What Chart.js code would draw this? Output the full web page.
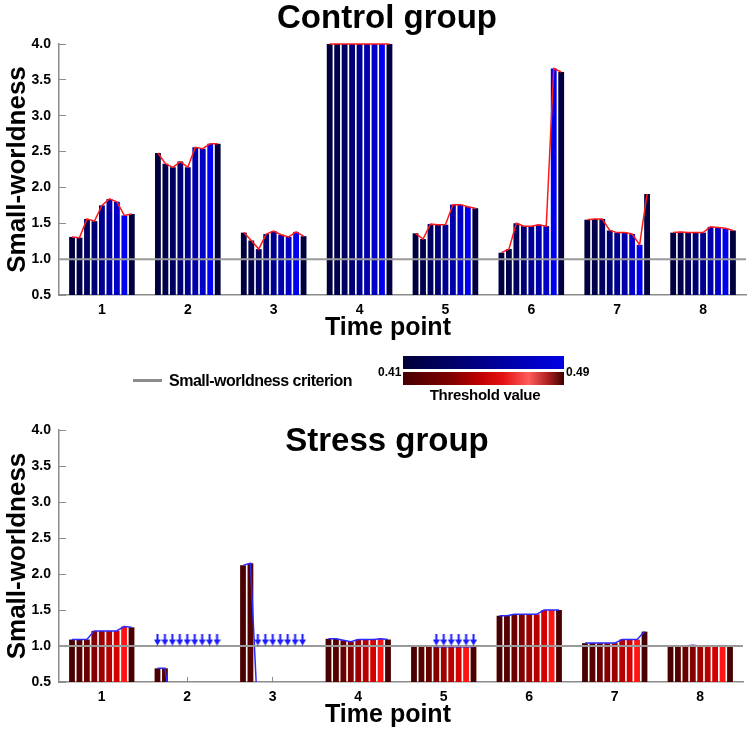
<!DOCTYPE html>
<html>
<head>
<meta charset="utf-8">
<title>Small-worldness by time point</title>
<script src="https://cdn.jsdelivr.net/npm/chart.js@4.4.1/dist/chart.umd.min.js"></script>
<style>
  body { margin: 0; background: #fff; font-family: 'Liberation Sans', Arial, sans-serif; }
  #page { position: relative; width: 749px; height: 734px; overflow: hidden; }
  .panel { position: absolute; left: 0; width: 749px; }
  .txt { position: absolute; font-weight: bold; white-space: nowrap; color: #000; z-index: 2; }
  .title { font-size: 33px; line-height: 33px; left: 387px; transform: translateX(-50%); }
  .xtitle { font-size: 25px; line-height: 25px; left: 388px; transform: translateX(-50%); }
  .cbar { position: absolute; left: 403px; width: 161px; height: 13px; z-index: 2; }
</style>
</head>
<body>
<div id="page">
  <div class="panel" style="top:0;height:345px"><canvas id="controlChart"></canvas></div>
  <div class="panel" style="top:386px;height:348px"><canvas id="stressChart"></canvas></div>

  <div class="txt title" style="top:0">Control group</div>
  <div class="txt xtitle" style="top:314px">Time point</div>
  <div class="txt title" style="top:423px">Stress group</div>
  <div class="txt xtitle" style="top:701px">Time point</div>

  <!-- legend: criterion line + threshold colour bar -->
  <div style="position:absolute;left:133px;top:379px;width:29px;height:3px;background:#8c8c8c"></div>
  <div class="txt" style="left:169px;top:373px;font-size:16px;line-height:16px;letter-spacing:-0.5px">Small-worldness criterion</div>
  <div class="cbar" style="top:356px;background:linear-gradient(to right,#000038,#000070 35%,#0000b0 70%,#0000e6)"></div>
  <div class="cbar" style="top:372px;background:linear-gradient(to right,#480000,#800000 30%,#c00000 48%,#e41010 62%,#ff5c5c 78%,#b02020 90%,#3c0000)"></div>
  <div class="txt" style="left:378px;top:366px;font-size:12px;line-height:12px">0.41</div>
  <div class="txt" style="left:566px;top:366px;font-size:12px;line-height:12px">0.49</div>
  <div class="txt" style="left:485px;top:387px;font-size:15px;line-height:15px;transform:translateX(-50%);letter-spacing:-0.3px">Threshold value</div>
</div>

<script>
const timePoints = ['1', '2', '3', '4', '5', '6', '7', '8'];
const thresholds = [0.41, 0.42, 0.43, 0.44, 0.45, 0.46, 0.47, 0.48, 0.49];
const yTicks = [0.5, 1.0, 1.5, 2.0, 2.5, 3.0, 3.5, 4.0];
const criterion = 1.0;

// small-worldness per time point (rows) and threshold (columns)
const controlValues = [
    [1.31, 1.30, 1.56, 1.53, 1.75, 1.84, 1.80, 1.61, 1.63],
    [2.48, 2.33, 2.28, 2.36, 2.28, 2.56, 2.54, 2.61, 2.61],
    [1.37, 1.26, 1.14, 1.35, 1.39, 1.34, 1.31, 1.38, 1.32],
    [4.00, 4.00, 4.00, 4.00, 4.00, 4.00, 4.00, 4.00, 4.00],
    [1.36, 1.28, 1.49, 1.48, 1.48, 1.76, 1.76, 1.73, 1.71],
    [1.09, 1.14, 1.50, 1.46, 1.46, 1.48, 1.46, 3.66, 3.61],
    [1.55, 1.56, 1.56, 1.40, 1.37, 1.37, 1.35, 1.20, 1.91],
    [1.37, 1.38, 1.37, 1.37, 1.37, 1.45, 1.44, 1.43, 1.40]
];
const stressValues = [
    [1.09, 1.09, 1.09, 1.21, 1.21, 1.21, 1.21, 1.27, 1.26],
    [0.69, 0.69, 0, 0, 0, 0, 0, 0, 0],
    [2.12, 2.15, 0, 0, 0, 0, 0, 0, 0],
    [1.10, 1.10, 1.08, 1.06, 1.09, 1.09, 1.09, 1.10, 1.09],
    [1.00, 1.00, 1.00, 0.99, 0.99, 0.99, 0.99, 0.99, 0.99],
    [1.42, 1.42, 1.44, 1.44, 1.44, 1.44, 1.50, 1.50, 1.50],
    [1.04, 1.04, 1.04, 1.04, 1.04, 1.09, 1.09, 1.09, 1.20],
    [1.00, 1.00, 1.00, 1.01, 1.00, 1.00, 1.00, 1.00, 1.00]
];

// colour per threshold
const blueShades = ['#000040', '#00004c', '#000062', '#000076', '#000090', '#0000aa', '#0000c6', '#0000f0', '#000040'];
const redShades = ['#4a0000', '#560000', '#6a0000', '#840000', '#9c0000', '#b60000', '#d40000', '#ff1414', '#4a0000'];

const xMin = 0.5, xMax = 8.5;
const barPitch = 0.087;     // spacing of threshold bars inside one time point
const arrowLevel = 1.09;    // height of the "below criterion" arrows

Chart.defaults.font.family = "'Liberation Sans', Arial, sans-serif";
Chart.defaults.color = '#000';

function barX(g, k) {
    return (g + 1) + (k - (thresholds.length - 1) / 2) * barPitch;
}

// little blue down arrow used as point style
const arrowImg = document.createElement('canvas');
arrowImg.width = 7; arrowImg.height = 12;
(function () {
    const a = arrowImg.getContext('2d');
    a.fillStyle = '#1a1aff';
    a.fillRect(2.5, 0, 2, 7);
    a.beginPath(); a.moveTo(0, 6); a.lineTo(7, 6); a.lineTo(3.5, 12); a.closePath(); a.fill();
})();

function buildDatasets(values, shades, lineColor) {
    const bars = [];
    values.forEach((row, g) => row.forEach((v, k) => bars.push({ x: barX(g, k), y: v })));
    const sets = [{
        type: 'bar', data: bars, order: 3,
        backgroundColor: ctx => shades[ctx.dataIndex % shades.length],
        barPercentage: 0.78, categoryPercentage: 1, clip: 0
    }];
    values.forEach((row, g) => sets.push({
        type: 'line', data: row.map((v, k) => ({ x: barX(g, k), y: v })),
        borderColor: lineColor, borderWidth: 1.5, pointRadius: 0, tension: 0, order: 2,
        clip: { left: 0, top: 2, right: 0, bottom: 0 }
    }));
    sets.push({
        type: 'line', data: [{ x: xMin, y: criterion }, { x: xMax, y: criterion }],
        borderColor: '#9a9a9a', borderWidth: 2, pointRadius: 0, order: 1
    });
    const arrows = bars.filter(p => p.y < criterion).map(p => ({ x: p.x, y: arrowLevel }));
    if (arrows.length) {
        sets.push({
            type: 'line', data: arrows, showLine: false, order: 0,
            pointStyle: arrowImg, pointRadius: 5
        });
    }
    return sets;
}

function createPanel(canvasId, values, shades, lineColor, xHeight) {
    const ctx = document.getElementById(canvasId);
    if (!ctx) { console.error(`Chart Error: Canvas element #${canvasId} not found.`); return; }
    const axisGrey = '#8c8c8c';
    const chartOptions = {
        responsive: true, maintainAspectRatio: false, animation: false, events: [],
        layout: { padding: { top: 44, right: 3, left: 0, bottom: 0 } },
        plugins: { legend: { display: false }, tooltip: { enabled: false }, title: { display: false } },
        scales: {
            x: {
                type: 'linear', min: xMin, max: xMax, offset: false,
                afterBuildTicks: s => { s.ticks = timePoints.map((t, i) => ({ value: i + 1 })); },
                afterFit: s => { s.height = xHeight; },
                ticks: { callback: v => timePoints[v - 1], font: { size: 14, weight: 'bold' }, padding: 12, maxRotation: 0 },
                grid: { drawOnChartArea: false, color: axisGrey, tickLength: -5, offset: false },
                border: { color: axisGrey, width: 1.5 }
            },
            y: {
                min: yTicks[0], max: yTicks[yTicks.length - 1],
                afterBuildTicks: s => { s.ticks = yTicks.map(v => ({ value: v })); },
                afterFit: s => { s.width = 59; },
                ticks: { callback: v => v.toFixed(1), font: { size: 14, weight: 'bold' }, padding: 15 },
                grid: { drawOnChartArea: false, color: axisGrey, tickLength: -7 },
                border: { color: axisGrey, width: 1.5 },
                title: { display: true, text: 'Small-worldness', font: { size: 26, weight: 'bold' }, padding: { top: 2, bottom: 0 } }
            }
        }
    };
    try { new Chart(ctx, { type: 'bar', data: { datasets: buildDatasets(values, shades, lineColor) }, options: chartOptions }); }
    catch (error) { console.error(`Error initializing chart #${canvasId}:`, error); }
}

createPanel('controlChart', controlValues, blueShades, '#ff1a1a', 50);
createPanel('stressChart', stressValues, redShades, '#2a2aff', 52);
</script>
</body>
</html>
